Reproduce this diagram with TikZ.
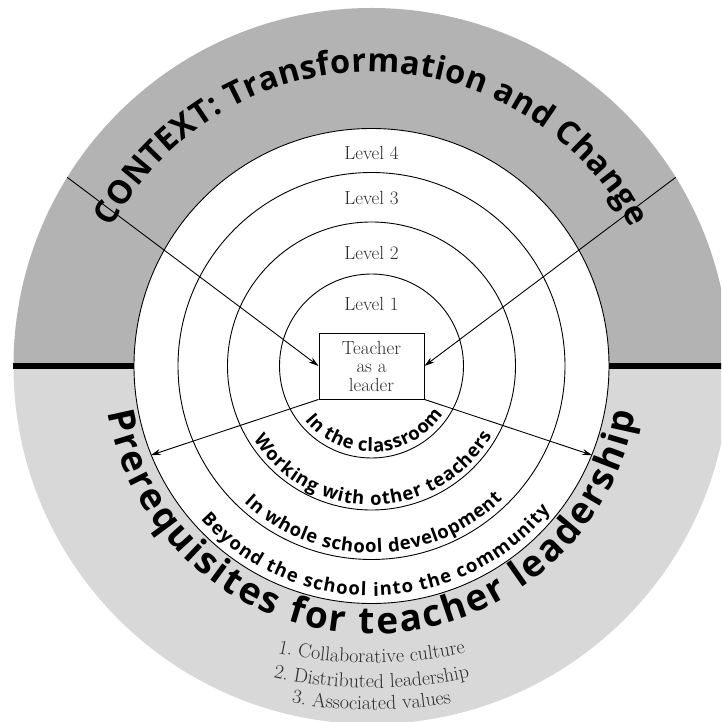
\documentclass[tikz,border=0pt]{standalone}
\usepackage{fontspec}
\usetikzlibrary{decorations.text,arrows.meta,calc}
\newfontfamily\comicf{Open Sans}
\definecolor{topgray}{RGB}{179,179,179}
\definecolor{botgray}{RGB}{216,216,216}
\definecolor{serifgray}{RGB}{45,45,45}
\newcommand\bigtxt{\comicf\bfseries\fontsize{32.5pt}{38pt}\selectfont}
\newcommand\bottxt{\comicf\bfseries\fontsize{37pt}{43pt}\selectfont}
\newcommand\ringtxt{\comicf\bfseries\fontsize{18.5pt}{22pt}\selectfont}
\newcommand\listtxt{\color{serifgray}\fontsize{20pt}{23pt}\selectfont}
\begin{document}
\begin{tikzpicture}[x=1pt,y=1pt,
  ring/.style={draw=black,line width=0.9pt},
  arr/.style={line width=0.9pt,-{Stealth[length=10pt,width=6pt]}},
  lvl/.style={text=serifgray,font=\fontsize{19pt}{22pt}\selectfont,inner sep=0pt},
  arctext/.style={decorate,decoration={text along path,text={#1},text align={fit to path}}},
  ctrtext/.style={decorate,decoration={text along path,text={#1},text align=center}}
  ]
\useasboundingbox (-371.5,-356) rectangle (349.5,366);
\clip (-371.5,-356) rectangle (349.5,366);
\fill[white] (-371.5,-356) rectangle (349.5,366);
% background halves
\fill[topgray] (358pt,0) arc[start angle=0,end angle=180,radius=358pt] -- cycle;
\fill[botgray] (-358pt,0) arc[start angle=180,end angle=360,radius=358pt] -- cycle;
% rings
\filldraw[fill=white,ring] (0,0) circle[radius=237.5pt];
\draw[ring] (0,0) circle[radius=193.5pt];
\draw[ring] (0,0) circle[radius=144pt];
\draw[ring] (0,0) circle[radius=92pt];
% divider
\draw[line width=6pt] (-358,0) -- (-237.5,0);
\draw[line width=6pt] (237.5,0) -- (358,0);
% level labels
\node[lvl] (l4) at (0,213) {Level 4};
\node[lvl] (l3) at (0,167.5) {Level 3};
\node[lvl] (l2) at (0,113.3) {Level 2};
\node[lvl] (l1) at (0,62) {Level 1};
% centre box
\node[draw,line width=0.9pt,minimum width=105pt,minimum height=66pt,inner sep=0pt,
      align=center,text=serifgray,font=\fontsize{19pt}{18.5pt}\selectfont,fill=white]
      (box) at (0,0) {Teacher\\as a\\leader};
% curved texts
\path[arctext={|\bigtxt|CONTEXT: Transformation and Change}]
  (152:294pt) arc[start angle=152,end angle=28,radius=294pt];
\path[arctext={|\bottxt|Prerequisites for teacher leadership}]
  (190:268pt) arc[start angle=190,end angle=350,radius=268pt];
\path[arctext={|\ringtxt|In the classroom}]
  (219:86pt) arc[start angle=219,end angle=326,radius=86pt];
\path[arctext={|\ringtxt|Working with other teachers}]
  (212:139pt) arc[start angle=212,end angle=330,radius=139pt];
\path[arctext={|\ringtxt|In whole school development}]
  (227:187pt) arc[start angle=227,end angle=314.5,radius=187pt];
\path[arctext={|\ringtxt|Beyond the school into the community}]
  (222:230pt) arc[start angle=222,end angle=321,radius=230pt];
% list
\path[ctrtext={|\listtxt|1. Collaborative culture}]
  ($(0,153)+(250:450pt)$) arc[start angle=250,end angle=290,radius=450pt];
\path[ctrtext={|\listtxt|2. Distributed leadership}]
  ($(0,128)+(250:450pt)$) arc[start angle=250,end angle=290,radius=450pt];
\path[ctrtext={|\listtxt|3. Associated values}]
  ($(0,106)+(250:450pt)$) arc[start angle=250,end angle=290,radius=450pt];
% arrows
\coordinate (ul) at (148.2:358pt);
\coordinate (ur) at (31.8:358pt);
\coordinate (ll) at (202:238pt);
\coordinate (lr) at (338:238pt);
\draw[arr] (ul) -- (box.west);
\draw[arr] (ur) -- (box.east);
\draw[arr] (box.south west) -- (ll);
\draw[arr] (box.south east) -- (lr);
\end{tikzpicture}
\end{document}
